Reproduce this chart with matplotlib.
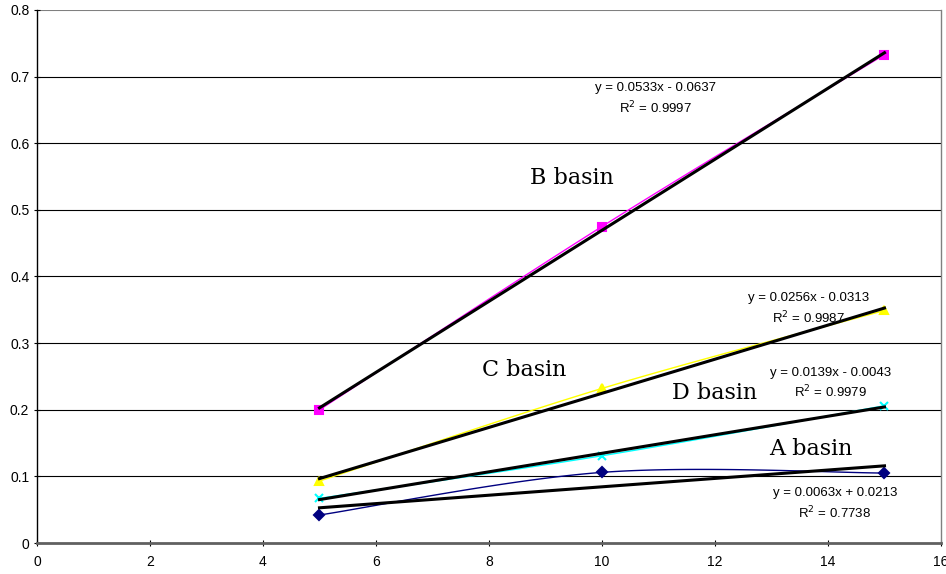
import numpy as np
import matplotlib
matplotlib.use("Agg")
import matplotlib.pyplot as plt

x = [5, 10, 15]
b_basin = [0.200, 0.475, 0.733]
c_basin = [0.093, 0.232, 0.349]
d_basin = [0.067, 0.131, 0.206]
a_basin = [0.042, 0.106, 0.105]

series_names = ["B basin", "C basin", "D basin", "A basin"]
eq_labels = ["y = 0.0533x - 0.0637", "y = 0.0256x - 0.0313",
             "y = 0.0139x - 0.0043", "y = 0.0063x + 0.0213"]
r2_labels = ["R$^2$ = 0.9997", "R$^2$ = 0.9987", "R$^2$ = 0.9979", "R$^2$ = 0.7738"]

x_ticks = [0, 2, 4, 6, 8, 10, 12, 14, 16]
y_ticks = [0, 0.1, 0.2, 0.3, 0.4, 0.5, 0.6, 0.7, 0.8]


def smooth(px, py, n=60):
    # Catmull-Rom style smoothing (like Excel smoothed lines)
    px = np.asarray(px, float); py = np.asarray(py, float)
    P = np.column_stack([px, py])
    ext = np.vstack([P[0], P, P[-1]])
    out = []
    for i in range(1, len(ext) - 2):
        p0, p1, p2, p3 = ext[i - 1], ext[i], ext[i + 1], ext[i + 2]
        c1 = p1 + (p2 - p0) / 6
        c2 = p2 - (p3 - p1) / 6
        t = np.linspace(0, 1, n)[:, None]
        seg = ((1 - t) ** 3) * p1 + 3 * ((1 - t) ** 2) * t * c1 + 3 * (1 - t) * t ** 2 * c2 + t ** 3 * p2
        out.append(seg)
    s = np.vstack(out)
    return s[:, 0], s[:, 1]


fig = plt.figure(figsize=(9.46, 5.74), dpi=100)
ax = fig.add_axes([0.0391, 0.054, 0.9556, 0.9286])
ax.set_xlim(0, 16)
ax.set_ylim(0, 0.8)

styles = [
    (b_basin, "#FF00FF", "s", 6),
    (c_basin, "#FFFF00", "^", 6),
    (d_basin, "#00FFFF", "x", 6),
    (a_basin, "#000080", "D", 5),
]

for yv, col, mk, ms in styles:
    sx, sy = smooth(x, yv)
    ax.plot(sx, sy, color=col, lw=1.0, zorder=3)
    ax.plot(x, yv, linestyle="none", marker=mk, color=col, ms=ms, mew=1.5, zorder=4)
    k, c = np.polyfit(x, yv, 1)
    xs = np.array([x[0], x[-1]])
    ax.plot(xs, k * xs + c, color="black", lw=2.2, zorder=5)

for yt in y_ticks[1:-1]:
    ax.axhline(yt, color="black", lw=0.8, zorder=1)
ax.axhline(0.8, color="#808080", lw=1.5, zorder=1)

ax.set_xticks(x_ticks)
ax.set_yticks(y_ticks)
ax.set_xticklabels([str(t) for t in x_ticks])
ax.set_yticklabels(["0"] + [f"{t:.1f}" for t in y_ticks[1:]])
for lab in ax.get_xticklabels() + ax.get_yticklabels():
    lab.set_family("Liberation Sans")
    lab.set_fontsize(10)
ax.tick_params(axis="both", direction="inout", length=5, width=0.8, colors="black", pad=3)
ax.tick_params(axis="x", pad=6)

ax.spines["left"].set_color("black")
ax.spines["left"].set_linewidth(1)
ax.spines["bottom"].set_color("#606060")
ax.spines["bottom"].set_linewidth(2)
ax.spines["right"].set_color("#808080")
ax.spines["right"].set_linewidth(1)
ax.spines["top"].set_visible(False)

eq_pos = [(10.94, 0.683, 0.653), (13.66, 0.368, 0.337),
          (14.04, 0.255, 0.227), (14.12, 0.075, 0.045)]
name_pos = [(9.47, 0.548), (8.62, 0.260), (12.0, 0.225), (13.7, 0.141)]

for i in range(4):
    ex, ey, ry = eq_pos[i]
    ax.text(ex, ey, eq_labels[i], ha="center", va="center", fontsize=9.5,
            family="Liberation Sans", zorder=6)
    ax.text(ex, ry, r2_labels[i], ha="center", va="center", fontsize=9.5,
            family="Liberation Sans", zorder=6)
    nx, ny = name_pos[i]
    ax.text(nx, ny, series_names[i], ha="center", va="center", fontsize=16,
            family="DejaVu Serif", zorder=6)

fig.savefig("out.png", dpi=100)
